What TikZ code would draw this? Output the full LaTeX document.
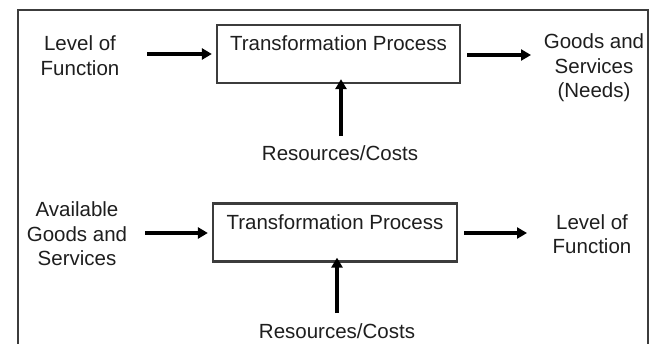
\documentclass[tikz,border=0pt]{standalone}
\usepackage{fontspec}
\setmainfont{Liberation Sans}
\usetikzlibrary{arrows.meta}
\definecolor{txt}{HTML}{1E1E1E}
\definecolor{frm}{HTML}{3C3C3C}
\begin{document}
\begin{tikzpicture}[x=1pt,y=-1pt,
  lbl/.style={font=\fontsize{20.5}{24.5}\selectfont, text=txt, align=center, inner sep=0pt},
  procbox/.style={draw=frm, line width=2.2pt, minimum width=#1, minimum height=58pt, inner sep=0pt},
  arr/.style={-{Triangle[length=10pt,width=11pt]}, line width=3.5pt, black}]
\useasboundingbox (0,0) rectangle (653,343);
\draw[frm, line width=2.2pt] (18,368) -- (18,10) -- (648,10) -- (648,368);
% top row
\node[procbox=243pt] (p1) at (338.5,54) {};
\node[lbl] (p1t) at (338.5,43) {Transformation Process};
\node[lbl] (l1) at (80,55.5) {Level of\\Function};
\node[lbl] (r1) at (594,68) {Goods and\\Services\\(Needs)};
\node[lbl] (c1) at (340,153) {Resources/Costs};
\coordinate (a1s) at (147,54);
\coordinate (b1e) at (531,55);
\coordinate (u1s) at (341,136);
\draw[arr] (a1s) -- ([xshift=-4pt]p1.west |- a1s);
\draw[arr] ([xshift=6pt]p1.east |- b1e) -- (b1e);
\draw[arr] (u1s) -- ([yshift=5pt]u1s |- p1.south);
% bottom row
\node[procbox=244pt] (p2) at (335,232.5) {};
\node[lbl] (p2t) at (335,222) {Transformation Process};
\node[lbl] (l2) at (77,234) {Available\\Goods and\\Services};
\node[lbl] (r2) at (592,234) {Level of\\Function};
\node[lbl] (c2) at (337,331) {Resources/Costs};
\coordinate (a2s) at (145,233);
\coordinate (b2e) at (527,233);
\coordinate (u2s) at (337,313);
\draw[arr] (a2s) -- ([xshift=-4pt]p2.west |- a2s);
\draw[arr] ([xshift=6pt]p2.east |- b2e) -- (b2e);
\draw[arr] (u2s) -- ([yshift=5pt]u2s |- p2.south);
\end{tikzpicture}
\end{document}
